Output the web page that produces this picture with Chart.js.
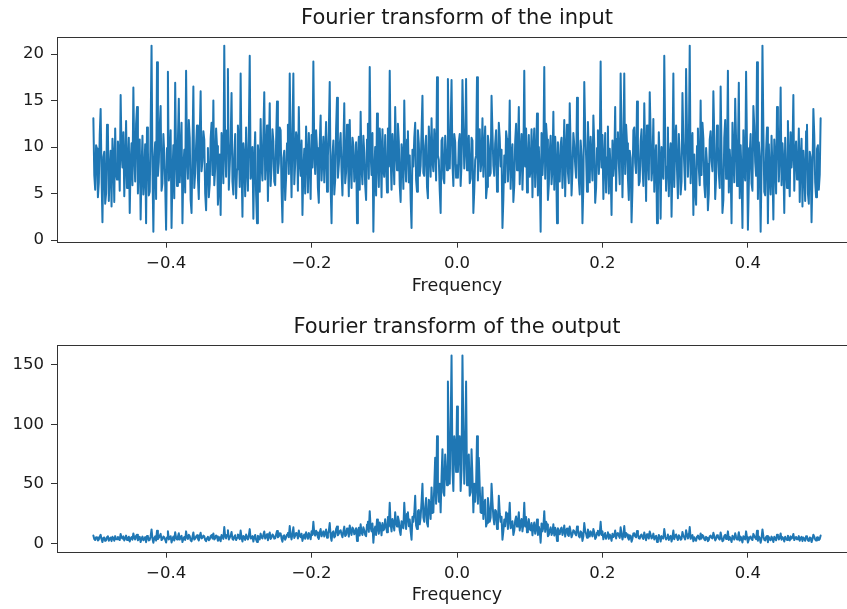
<!DOCTYPE html>
<html><head><meta charset="utf-8">
<script src="https://cdn.jsdelivr.net/npm/chart.js@4/dist/chart.umd.min.js"></script>
<style>
html,body{margin:0;padding:0;background:#fff;overflow:hidden;width:847px;height:609px;position:relative;}
canvas{position:absolute;left:0;}
#c1{top:0px}
#c2{top:305px}
</style></head>
<body>
<canvas id="c1" width="860" height="305"></canvas>
<canvas id="c2" width="860" height="304"></canvas>
<script>
// Frequency grid: -0.5 .. 0.5 in steps of 0.00125 (801 bins)
const FREQ_START = -0.5;
const FREQ_STEP = 0.00125;

// |FFT| of the input (symmetric about 0)
const inputMagnitude = [
13.1,7.0,5.4,10.2,9.8,4.6,6.2,11.3,14.1,6.8,1.9,8.9,9.5,3.9,5.0,12.4,11.7,4.2,7.3,9.6,
3.6,10.9,8.8,4.1,12.0,7.2,6.5,10.6,9.2,5.3,15.6,9.4,7.8,11.6,4.7,8.3,12.8,5.6,8.1,11.0,
2.9,8.4,10.4,5.9,16.4,9.1,6.3,12.5,14.3,5.0,8.6,10.8,2.2,7.6,11.2,4.9,7.0,10.3,1.8,12.1,
9.6,4.8,5.2,11.9,20.9,7.7,0.9,8.8,10.5,4.4,19.1,6.9,8.4,12.2,14.4,5.3,6.1,11.4,9.3,6.0,
1.1,9.9,18.1,6.4,7.5,11.8,1.3,7.1,10.2,4.5,16.9,9.0,5.8,10.7,15.2,6.2,8.9,12.6,1.8,7.8,
9.7,5.1,18.2,8.7,6.6,12.9,11.0,4.3,2.9,9.5,16.5,5.6,7.2,10.1,12.3,6.7,4.4,11.1,16.0,7.4,
8.5,11.7,10.8,5.0,3.2,8.2,9.9,4.6,6.0,10.9,12.6,7.0,15.0,5.9,7.7,12.0,10.1,3.8,5.5,9.2,
2.7,11.5,9.4,6.1,20.9,9.7,6.8,11.8,18.4,5.4,8.0,10.6,15.8,6.3,4.9,9.0,11.4,4.5,7.6,12.3,
10.3,5.7,17.9,8.1,2.5,10.4,9.0,4.7,12.1,7.9,5.3,11.2,19.8,6.6,7.4,10.0,2.3,8.5,11.6,4.9,
1.8,10.2,8.7,5.2,13.0,8.0,6.4,11.4,15.9,6.5,9.1,12.3,4.2,9.4,14.7,5.8,7.9,11.9,10.6,6.3,
5.9,10.5,14.9,7.2,8.3,12.1,11.8,5.5,1.9,8.8,9.6,4.3,6.7,10.4,12.4,7.1,17.9,9.8,4.6,11.3,
17.9,6.0,8.2,11.6,10.9,5.3,14.3,8.4,6.9,10.7,2.7,7.5,9.8,5.0,12.2,8.9,5.1,11.5,8.5,4.4,
11.3,7.8,19.2,9.3,7.1,11.8,9.9,5.6,4.0,10.3,13.4,6.4,8.8,11.1,6.2,9.5,12.7,5.2,9.0,11.7,
17.0,5.8,1.8,9.0,10.7,4.9,6.5,11.9,15.3,6.7,8.1,10.2,11.5,7.4,4.8,9.9,14.7,6.1,7.3,12.4,
9.5,4.7,12.9,8.3,5.6,11.0,10.2,6.3,7.8,10.5,1.8,8.7,11.1,5.4,13.8,7.7,6.0,11.2,9.4,5.9,
4.3,10.8,12.5,6.6,18.6,9.2,7.0,11.5,0.9,7.3,10.0,4.8,13.6,8.6,5.7,12.0,9.8,4.6,11.9,7.5,
6.8,11.3,8.4,5.1,12.0,7.9,18.2,8.9,5.4,11.4,9.2,6.0,14.3,9.6,7.5,12.5,10.6,5.9,4.1,10.3,
8.9,5.5,15.0,8.6,6.3,10.8,11.7,6.2,9.1,4.4,1.3,9.7,7.9,11.0,12.6,6.5,5.2,11.8,10.4,6.9,
8.0,11.6,15.5,7.2,6.9,10.1,11.2,5.7,4.5,12.2,9.7,6.8,13.1,8.5,7.4,11.9,10.0,6.4,17.5,9.1,
8.6,5.3,2.9,10.7,11.0,6.6,6.1,11.2,9.3,7.5,17.3,9.8,7.7,12.1,17.2,8.2,5.8,11.4,10.5,6.7,
8.0,
6.7,10.5,11.4,5.8,8.2,17.2,12.1,7.7,9.8,17.3,7.5,9.3,11.2,6.1,6.6,11.0,10.7,2.9,5.3,8.6,
9.1,17.5,6.4,10.0,11.9,7.4,8.5,13.1,6.8,9.7,12.2,4.5,5.7,11.2,10.1,6.9,7.2,15.5,11.6,8.0,
6.9,10.4,11.8,5.2,6.5,12.6,11.0,7.9,9.7,1.3,4.4,9.1,6.2,11.7,10.8,6.3,8.6,15.0,5.5,8.9,
10.3,4.1,5.9,10.6,12.5,7.5,9.6,14.3,6.0,9.2,11.4,5.4,8.9,18.2,7.9,12.0,5.1,8.4,11.3,6.8,
7.5,11.9,4.6,9.8,12.0,5.7,8.6,13.6,4.8,10.0,7.3,0.9,11.5,7.0,9.2,18.6,6.6,12.5,10.8,4.3,
5.9,9.4,11.2,6.0,7.7,13.8,5.4,11.1,8.7,1.8,10.5,7.8,6.3,10.2,11.0,5.6,8.3,12.9,4.7,9.5,
12.4,7.3,6.1,14.7,9.9,4.8,7.4,11.5,10.2,8.1,6.7,15.3,11.9,6.5,4.9,10.7,9.0,1.8,5.8,17.0,
11.7,9.0,5.2,12.7,9.5,6.2,11.1,8.8,6.4,13.4,10.3,4.0,5.6,9.9,11.8,7.1,9.3,19.2,7.8,11.3,
4.4,8.5,11.5,5.1,8.9,12.2,5.0,9.8,7.5,2.7,10.7,6.9,8.4,14.3,5.3,10.9,11.6,8.2,6.0,17.9,
11.3,4.6,9.8,17.9,7.1,12.4,10.4,6.7,4.3,9.6,8.8,1.9,5.5,11.8,12.1,8.3,7.2,14.9,10.5,5.9,
6.3,10.6,11.9,7.9,5.8,14.7,9.4,4.2,12.3,9.1,6.5,15.9,11.4,6.4,8.0,13.0,5.2,8.7,10.2,1.8,
4.9,11.6,8.5,2.3,10.0,7.4,6.6,19.8,11.2,5.3,7.9,12.1,4.7,9.0,10.4,2.5,8.1,17.9,5.7,10.3,
12.3,7.6,4.5,11.4,9.0,4.9,6.3,15.8,10.6,8.0,5.4,18.4,11.8,6.8,9.7,20.9,6.1,9.4,11.5,2.7,
9.2,5.5,3.8,10.1,12.0,7.7,5.9,15.0,7.0,12.6,10.9,6.0,4.6,9.9,8.2,3.2,5.0,10.8,11.7,8.5,
7.4,16.0,11.1,4.4,6.7,12.3,10.1,7.2,5.6,16.5,9.5,2.9,4.3,11.0,12.9,6.6,8.7,18.2,5.1,9.7,
7.8,1.8,12.6,8.9,6.2,15.2,10.7,5.8,9.0,16.9,4.5,10.2,7.1,1.3,11.8,7.5,6.4,18.1,9.9,1.1,
6.0,9.3,11.4,6.1,5.3,14.4,12.2,8.4,6.9,19.1,4.4,10.5,8.8,0.9,7.7,20.9,11.9,5.2,4.8,9.6,
12.1,1.8,10.3,7.0,4.9,11.2,7.6,2.2,10.8,8.6,5.0,14.3,12.5,6.3,9.1,16.4,5.9,10.4,8.4,2.9,
11.0,8.1,5.6,12.8,8.3,4.7,11.6,7.8,9.4,15.6,5.3,9.2,10.6,6.5,7.2,12.0,4.1,8.8,10.9,3.6,
9.6,7.3,4.2,11.7,12.4,5.0,3.9,9.5,8.9,1.9,6.8,14.1,11.3,6.2,4.6,9.8,10.2,5.4,7.0,13.1
];

// |FFT| of the output (symmetric about 0)
const outputMagnitude = [
6.6,3.5,2.7,5.1,4.9,2.3,3.1,5.6,7.1,3.4,1.0,4.5,4.8,2.0,2.5,5.2,5.9,2.1,3.7,4.8,
1.8,5.4,4.4,2.1,6.0,3.6,3.3,5.3,4.6,2.7,7.8,4.7,3.9,5.8,2.4,4.2,6.4,2.8,4.1,5.5,
1.5,4.2,5.2,3.0,8.2,4.6,3.2,6.3,7.2,2.5,4.3,5.4,1.1,3.8,5.6,2.5,3.5,5.2,0.9,6.1,
5.3,2.4,2.9,6.0,11.6,3.9,0.4,4.4,5.8,2.2,10.5,3.5,4.6,6.1,7.9,2.7,3.4,5.7,5.1,3.0,
0.6,5.0,10.0,3.2,4.1,5.9,0.7,3.6,5.6,2.3,9.3,4.5,3.2,5.4,8.4,3.1,4.9,6.3,1.0,3.9,
5.3,2.8,10.0,4.8,3.6,7.1,6.1,2.4,1.6,5.2,9.1,3.1,4.0,5.6,6.8,3.7,2.4,6.1,8.8,4.1,
4.7,6.4,5.9,2.8,1.8,4.5,5.4,2.5,3.3,6.0,6.9,3.9,8.3,3.2,4.2,6.6,5.6,2.1,3.0,5.1,
1.6,6.9,5.6,3.7,13.7,5.8,4.1,7.1,11.0,3.2,4.8,6.4,9.5,3.8,2.9,5.4,6.8,2.7,4.6,7.4,
6.2,3.4,10.7,4.9,1.5,6.2,5.4,2.8,7.3,4.7,3.2,6.7,11.9,4.0,4.4,6.0,1.4,5.1,7.0,3.0,
1.1,6.3,5.4,3.2,8.1,5.0,4.0,7.1,9.9,4.0,5.6,7.6,2.6,5.8,9.1,3.6,4.9,7.4,6.6,3.9,
4.1,7.4,10.4,5.0,5.8,8.5,8.3,3.9,1.3,6.2,6.7,3.0,4.7,7.3,8.7,5.0,14.5,6.9,3.2,7.9,
13.4,4.5,6.2,8.7,8.2,4.0,10.7,6.3,5.2,8.0,2.0,5.6,7.4,3.8,9.2,6.7,3.8,8.6,6.4,3.3,
10,7.0,18,8.4,6.5,10.6,9,5.0,3.6,9.3,12,5.8,8,10.0,5.6,8.6,11.5,4.7,8,10.5,
17,5.8,2,9.0,10,4.9,6,11.9,14,6.7,8,10.2,11,7.4,5,9.9,14,6.1,7,12.4,
11,5.6,15,10.0,7,13.2,12,7.6,9,12.6,2,10.4,13,6.5,16,9.2,7,13.4,11,7.1,
6,15.7,18,9.6,27,13.3,10,16.7,0.5,10.6,14,7.0,20,12.5,8,17.4,14,6.7,17,10.9,
12,20.3,15,9.2,22,14.2,34,16.0,10,20.5,17,10.8,26,17.3,14,22.5,19,10.6,7,18.5,
14,12.6,34,19.8,12,24.8,26,14.3,20,10.1,3,22.3,18,25.3,40,15.0,12,27.1,28,15.9,
22,34.8,50,21.6,18,30.3,38,17.1,14,36.6,32,20.4,47,25.5,26,48.0,72,33.3,90,47.3,
35,50.0,26,55.6,79,42.9,40,74.6,62,48.8,136,78.4,50,96.0,158,62.0,44,90.0,80,60.0,
115,
60.0,80,90.0,44,62.0,158,96.0,50,78.4,136,48.8,62,74.6,40,42.9,79,55.6,26,50.0,35,
47.3,90,33.3,72,48.0,26,25.5,47,20.4,32,36.6,14,17.1,38,30.3,18,21.6,50,34.8,22,
15.9,28,27.1,12,15.0,40,25.3,18,22.3,3,10.1,20,14.3,26,24.8,12,19.8,34,12.6,14,
18.5,7,10.6,19,22.5,14,17.3,26,10.8,17,20.5,10,16.0,34,14.2,22,9.2,15,20.3,12,
10.9,17,6.7,14,17.4,8,12.5,20,7.0,14,10.6,0.5,16.7,10,13.3,27,9.6,18,15.7,6,
7.1,11,13.4,7,9.2,16,6.5,13,10.4,2,12.6,9,7.6,12,13.2,7,10.0,15,5.6,11,
12.4,7,6.1,14,9.9,5,7.4,11,10.2,8,6.7,14,11.9,6,4.9,10,9.0,2,5.8,17,
10.5,8,4.7,11.5,8.6,5.6,10.0,8,5.8,12,9.3,3.6,5.0,9,10.6,6.5,8.4,18,7.0,10,
3.3,6.4,8.6,3.8,6.7,9.2,3.8,7.4,5.6,2.0,8.0,5.2,6.3,10.7,4.0,8.2,8.7,6.2,4.5,13.4,
7.9,3.2,6.9,14.5,5.0,8.7,7.3,4.7,3.0,6.7,6.2,1.3,3.9,8.3,8.5,5.8,5.0,10.4,7.4,4.1,
3.9,6.6,7.4,4.9,3.6,9.1,5.8,2.6,7.6,5.6,4.0,9.9,7.1,4.0,5.0,8.1,3.2,5.4,6.3,1.1,
3.0,7.0,5.1,1.4,6.0,4.4,4.0,11.9,6.7,3.2,4.7,7.3,2.8,5.4,6.2,1.5,4.9,10.7,3.4,6.2,
7.4,4.6,2.7,6.8,5.4,2.9,3.8,9.5,6.4,4.8,3.2,11.0,7.1,4.1,5.8,13.7,3.7,5.6,6.9,1.6,
5.1,3.0,2.1,5.6,6.6,4.2,3.2,8.3,3.9,6.9,6.0,3.3,2.5,5.4,4.5,1.8,2.8,5.9,6.4,4.7,
4.1,8.8,6.1,2.4,3.7,6.8,5.6,4.0,3.1,9.1,5.2,1.6,2.4,6.1,7.1,3.6,4.8,10.0,2.8,5.3,
3.9,1.0,6.3,4.9,3.1,8.4,5.4,3.2,4.5,9.3,2.3,5.6,3.6,0.7,5.9,4.1,3.2,10.0,5.0,0.6,
3.0,5.1,5.7,3.4,2.7,7.9,6.1,4.6,3.5,10.5,2.2,5.8,4.4,0.4,3.9,11.6,6.0,2.9,2.4,5.3,
6.1,0.9,5.2,3.5,2.5,5.6,3.8,1.1,5.4,4.3,2.5,7.2,6.3,3.2,4.6,8.2,3.0,5.2,4.2,1.5,
5.5,4.1,2.8,6.4,4.2,2.4,5.8,3.9,4.7,7.8,2.7,4.6,5.3,3.3,3.6,6.0,2.1,4.4,5.4,1.8,
4.8,3.7,2.1,5.9,5.2,2.5,2.0,4.8,4.5,1.0,3.4,7.1,5.6,3.1,2.3,4.9,5.1,2.7,3.5,6.6
];

const xTicks = [-0.4, -0.2, 0, 0.2, 0.4];
const xTickLabels = ['\u22120.4', '\u22120.2', '0.0', '0.2', '0.4'];
const yTicksInput = [0, 5, 10, 15, 20];
const yTicksOutput = [0, 50, 100, 150];
const chartTitles = ['Fourier transform of the input', 'Fourier transform of the output'];
const xAxisLabel = 'Frequency';

const FONT = 'DejaVu Sans';
const TEXT = '#1a1a1a';
const SPINE = '#333333';
const LINE = '#1f77b4';

const freqs = inputMagnitude.map((_, i) => FREQ_START + i * FREQ_STEP);

const boxPlugin = {
  id: 'box',
  afterDatasetsDraw(chart) {
    const a = chart.chartArea, ctx = chart.ctx;
    ctx.save();
    ctx.strokeStyle = SPINE;
    ctx.lineWidth = 1;
    ctx.strokeRect(Math.round(a.left) + 0.5, Math.round(a.top) + 0.5,
      Math.round(a.right - a.left), Math.round(a.bottom - a.top));
    ctx.restore();
  }
};

function makeChart(canvasId, values, yTicks, yMin, yMax, title, titlePad, xAxisHeight, xTitlePadBottom) {
  const data = freqs.map((f, i) => ({ x: f, y: values[i] }));
  return new Chart(document.getElementById(canvasId), {
    type: 'line',
    data: { datasets: [{ data, borderColor: LINE, borderWidth: 2, pointRadius: 0,
      tension: 0, fill: false, borderJoinStyle: 'round', borderCapStyle: 'round' }] },
    plugins: [boxPlugin],
    options: {
      responsive: false, animation: false, devicePixelRatio: 1, parsing: false,
      layout: { padding: { left: 0, right: 3, top: 0, bottom: 0 } },
      plugins: {
        legend: { display: false }, tooltip: { enabled: false },
        title: { display: true, fullSize: false, text: title, color: TEXT,
          font: { family: FONT, size: 21, weight: 'normal', lineHeight: 1.2 },
          padding: titlePad }
      },
      scales: {
        x: {
          type: 'linear', min: -0.55, max: 0.55,
          afterFit(s) { s.height = xAxisHeight; },
          afterBuildTicks(s) { s.ticks = xTicks.map(v => ({ value: v })); },
          grid: { display: true, drawOnChartArea: false, drawTicks: true, tickLength: 6,
            tickColor: SPINE, tickWidth: 1 },
          border: { display: false },
          ticks: { color: TEXT, font: { family: FONT, size: 16.5 }, padding: 6, maxRotation: 0,
            autoSkip: false,
            callback(v) { const k = xTicks.findIndex(t => Math.abs(t - v) < 1e-9); return k >= 0 ? xTickLabels[k] : ''; } },
          title: { display: true, text: xAxisLabel, color: TEXT,
            font: { family: FONT, size: 17.5, lineHeight: 1.2 },
            padding: { top: 0, bottom: xTitlePadBottom } }
        },
        y: {
          type: 'linear', min: yMin, max: yMax,
          afterFit(s) { s.width = 57; },
          afterBuildTicks(s) { s.ticks = yTicks.map(v => ({ value: v })); },
          grid: { display: true, drawOnChartArea: false, drawTicks: true, tickLength: 6,
            tickColor: SPINE, tickWidth: 1 },
          border: { display: false },
          ticks: { color: TEXT, font: { family: FONT, size: 16.5 }, padding: 7, autoSkip: false,
            callback(v) { return String(v); } }
        }
      }
    }
  });
}

makeChart('c1', inputMagnitude, yTicksInput, -0.18, 21.86, chartTitles[0],
  { top: 5.9, bottom: 5.6 }, 63.3, 7.7);
makeChart('c2', outputMagnitude, yTicksOutput, -7.1, 166.8, chartTitles[1],
  { top: 10.4, bottom: 4.4 }, 57.3, 2.7);
</script>
</body></html>
